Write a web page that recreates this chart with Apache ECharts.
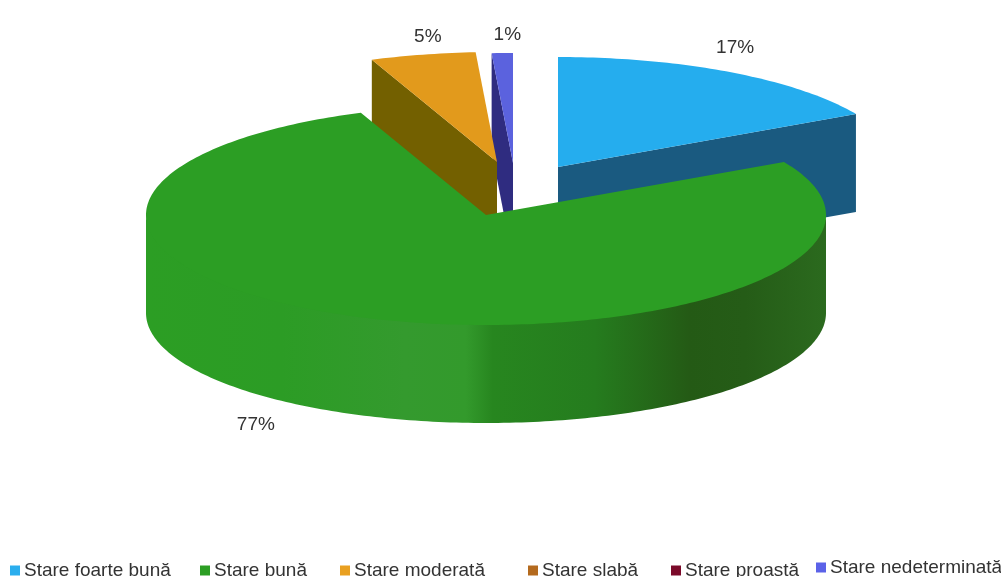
<!DOCTYPE html>
<html>
<head>
<meta charset="utf-8">
<style>html,body{margin:0;padding:0;background:#fff;overflow:hidden}#c{width:1001px;height:577px}</style>
<script src="https://cdn.jsdelivr.net/npm/echarts@6/dist/echarts.min.js"></script>
</head>
<body>
<div id="c"></div>
<script>
// Data
const categories = ['Stare foarte bună','Stare bună','Stare moderată','Stare slabă','Stare proastă','Stare nedeterminată'];
const values = [17,77,5,0,0,1];
const legendColors = ['#2BAEEE','#2C9E24','#E9A021','#B46A1E','#7B0A2A','#5B62E8'];

// Layout and style
const topColors = ['#25ADEE','#2C9E24','#E29A1C','#000','#000','#5B62DE'];
const wallColors = ['#1A5A80','#2C9E24','#736000','#000','#000','#2F2C80'];
const apexes = [[558,167],[486,215],[497,162],[0,0],[0,0],[513,163]];
const labelNudges = [[4,-25],[-115,8],[5,-18],[0,0],[0,0],[5,-18]];
const legendLefts = [10,200,340,528,671,816];
const legendTops = [561,561,561,561,561,558];
const RX = 340, RY = 110, DEPTH = 98;
const total = values.reduce((a,b)=>a+b,0);
const rad = d => d*Math.PI/180;

function sliceAngles(i){
  const before = values.slice(0,i).reduce((a,b)=>a+b,0);
  return [-90 + before/total*360, -90 + (before+values[i])/total*360];
}
const pt = (c,t,dy) => [c[0]+RX*Math.cos(rad(t)), c[1]+RY*Math.sin(rad(t))+(dy||0)];
function arc(c,a,b,dy){
  const out=[]; const n=Math.max(2,Math.ceil(Math.abs(b-a)));
  for(let k=0;k<=n;k++) out.push(pt(c,a+(b-a)*k/n,dy));
  return out;
}
const greenWallFill = {type:'linear',x:146,y:0,x2:826,y2:0,global:true,colorStops:[
  {offset:0,color:'#2C9E24'},{offset:0.2,color:'#2C9C25'},{offset:0.38,color:'#349A2E'},
  {offset:0.47,color:'#339A2C'},{offset:0.51,color:'#27861F'},{offset:0.66,color:'#257C1E'},
  {offset:0.80,color:'#245A15'},{offset:0.88,color:'#255C17'},{offset:1,color:'#2B6A1E'}]};

function makeRender(i){
  return function(params, api){
    const v = api.value(0);
    if(!v) return null;
    const [a,b] = sliceAngles(i);
    const c = apexes[i];
    const kids = [];
    // radial side walls facing the viewer
    [a,b].forEach((t,idx)=>{
      const p = pt(c,t);
      const dx = p[0]-c[0];
      // outward normal of this edge; clockwise-end edge points the other way
      const ny = idx===0 ? -dx : dx;
      if(ny>0.01 && v<50){
        kids.push({type:'polygon',shape:{points:[c,p,[p[0],p[1]+DEPTH],[c[0],c[1]+DEPTH]]},style:{fill:wallColors[i]}});
      }
    });
    // outer curved wall: only the front half is visible (runs a little under the top face to hide the seam)
    const fa = Math.max(a,0), fb = Math.min(b,180);
    if(fb>fa){
      kids.push({type:'polygon',shape:{points:arc(c,fa,fb,-3).concat(arc(c,fb,fa,DEPTH))},
        style:{fill:greenWallFill}});
    }
    // top face
    kids.push({type:'polygon',shape:{points:[c].concat(arc(c,a,b,0))},style:{fill:topColors[i]}});
    // percentage label
    const mid=(a+b)/2, lp=pt(c,mid, (mid>0&&mid<180)?DEPTH:0), n=labelNudges[i];
    kids.push({type:'text',style:{text:Math.round(v/total*100)+'%',x:lp[0]+n[0],y:lp[1]+n[1],
      fill:'#333',font:'19px "Liberation Sans", Arial, sans-serif',align:'center',verticalAlign:'middle'}});
    return {type:'group',children:kids};
  };
}

// Painter's order: back to front
const paintOrder = [5,2,0,1,3,4];
const series = paintOrder.map(i=>({
  type:'custom', name:categories[i], coordinateSystem:'none', silent:true,
  renderItem:makeRender(i), data:[[values[i]]], itemStyle:{color:legendColors[i]}
}));
const legend = categories.map((n,i)=>({
  data:[{name:n,icon:'rect'}], left:legendLefts[i], top:legendTops[i], padding:0,
  itemWidth:10, itemHeight:10, selectedMode:false,
  textStyle:{fontFamily:'"Liberation Sans", Arial, sans-serif',fontSize:19,color:'#333',lineHeight:10,padding:[0,0,0,-1]}
}));
const chart = echarts.init(document.getElementById('c'),null,{renderer:'canvas'});
chart.setOption({animation:false,backgroundColor:'#fff',legend,series});
</script>
</body>
</html>
